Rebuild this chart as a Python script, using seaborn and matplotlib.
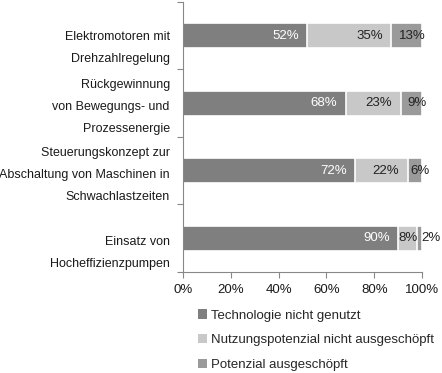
import numpy as np
import pandas as pd
import matplotlib
matplotlib.use("Agg")
import matplotlib.pyplot as plt
import seaborn as sb
from matplotlib.patches import Patch

categories = ["Elektromotoren mit\nDrehzahlregelung",
              "Rückgewinnung\nvon Bewegungs- und\nProzessenergie",
              "Steuerungskonzept zur\nAbschaltung von Maschinen in\nSchwachlastzeiten",
              "Einsatz von\nHocheffizienzpumpen"]
not_used = [52, 68, 72, 90]
not_exhausted = [35, 23, 22, 8]
exhausted = [13, 9, 6, 2]
series_names = ["Technologie nicht genutzt",
                "Nutzungspotenzial nicht ausgeschöpft",
                "Potenzial ausgeschöpft"]
colors = ["#7f7f7f", "#c8c8c8", "#9a9a9a"]
text_colors = ["white", "#222222", "#222222"]
xticks = [0, 20, 40, 60, 80, 100]

sb.set_style("white")
plt.rcParams["font.family"] = ["Liberation Sans", "DejaVu Sans"]
plt.rcParams["font.size"] = 9

fig = plt.figure(figsize=(4.42, 3.73), dpi=100)
ax = fig.add_axes([0.414, 0.271, 0.541, 0.724])

df = pd.DataFrame({"cat": categories, "a": not_used, "b": not_exhausted, "c": exhausted})
df["cum_b"] = df["a"] + df["b"]
df["cum_c"] = df["cum_b"] + df["c"]

# stacked look: draw the totals first, then overlay the smaller cumulative sums
for col, c in zip(["cum_c", "cum_b", "a"], colors[::-1]):
    sb.barplot(data=df, y="cat", x=col, color=c, orient="h", width=0.37,
               edgecolor="white", linewidth=1.2, saturation=1, ax=ax)

# value labels
vals = [not_used, not_exhausted, exhausted]
for i in range(len(categories)):
    left = 0
    for s in range(3):
        w = vals[s][i]
        end = left + w
        lab = f"{w}%"
        if s == 2:
            dx = 8 if w < 4 else 3.8
            ax.annotate(lab, (left + w / 2, i), xytext=(dx, 0), textcoords="offset points",
                        ha="center", va="center", color=text_colors[s], fontsize=9.5)
        elif w < 15:
            ax.annotate(lab, (left + w / 2, i), ha="center", va="center",
                        color=text_colors[s], fontsize=9.5)
        else:
            ax.annotate(lab, (end, i), xytext=(-6, 0), textcoords="offset points",
                        ha="right", va="center", color=text_colors[s], fontsize=9.5)
        left = end

# category labels, placed by hand like the original
label_offsets = [0.19, 0.06, 0.07, 0.22]
ax.set_yticks(np.arange(-0.5, len(categories)), [""] * (len(categories) + 1))
for i, (lab, off) in enumerate(zip(categories, label_offsets)):
    ax.text(-0.055, i + off, lab, transform=ax.get_yaxis_transform(),
            ha="right", va="center", fontsize=9, linespacing=2.1, color="#1a1a1a")

ax.set_xlim(0, 100)
ax.set_ylim(len(categories) - 0.5, -0.5)
ax.set_xticks(xticks, [f"{t}%" for t in xticks], fontsize=9.5)
ax.set_xlabel("")
ax.set_ylabel("")
ax.tick_params(axis="both", length=4, width=0.8, color="#888888", colors="#1a1a1a")
ax.tick_params(axis="x", bottom=True, pad=5)
ax.tick_params(axis="y", left=True)
for side in ["top", "right"]:
    ax.spines[side].set_visible(False)
for side in ["left", "bottom"]:
    ax.spines[side].set_color("#888888")
    ax.spines[side].set_linewidth(0.8)

handles = [Patch(facecolor=c, edgecolor="none") for c in colors]
fig.legend(handles, series_names, loc="upper left", bbox_to_anchor=(0.435, 0.185),
           frameon=False, fontsize=9.5, handlelength=0.7, handleheight=0.7,
           handletextpad=0.35, labelspacing=0.95, borderaxespad=0)

plt.savefig("out.png", dpi=100)
